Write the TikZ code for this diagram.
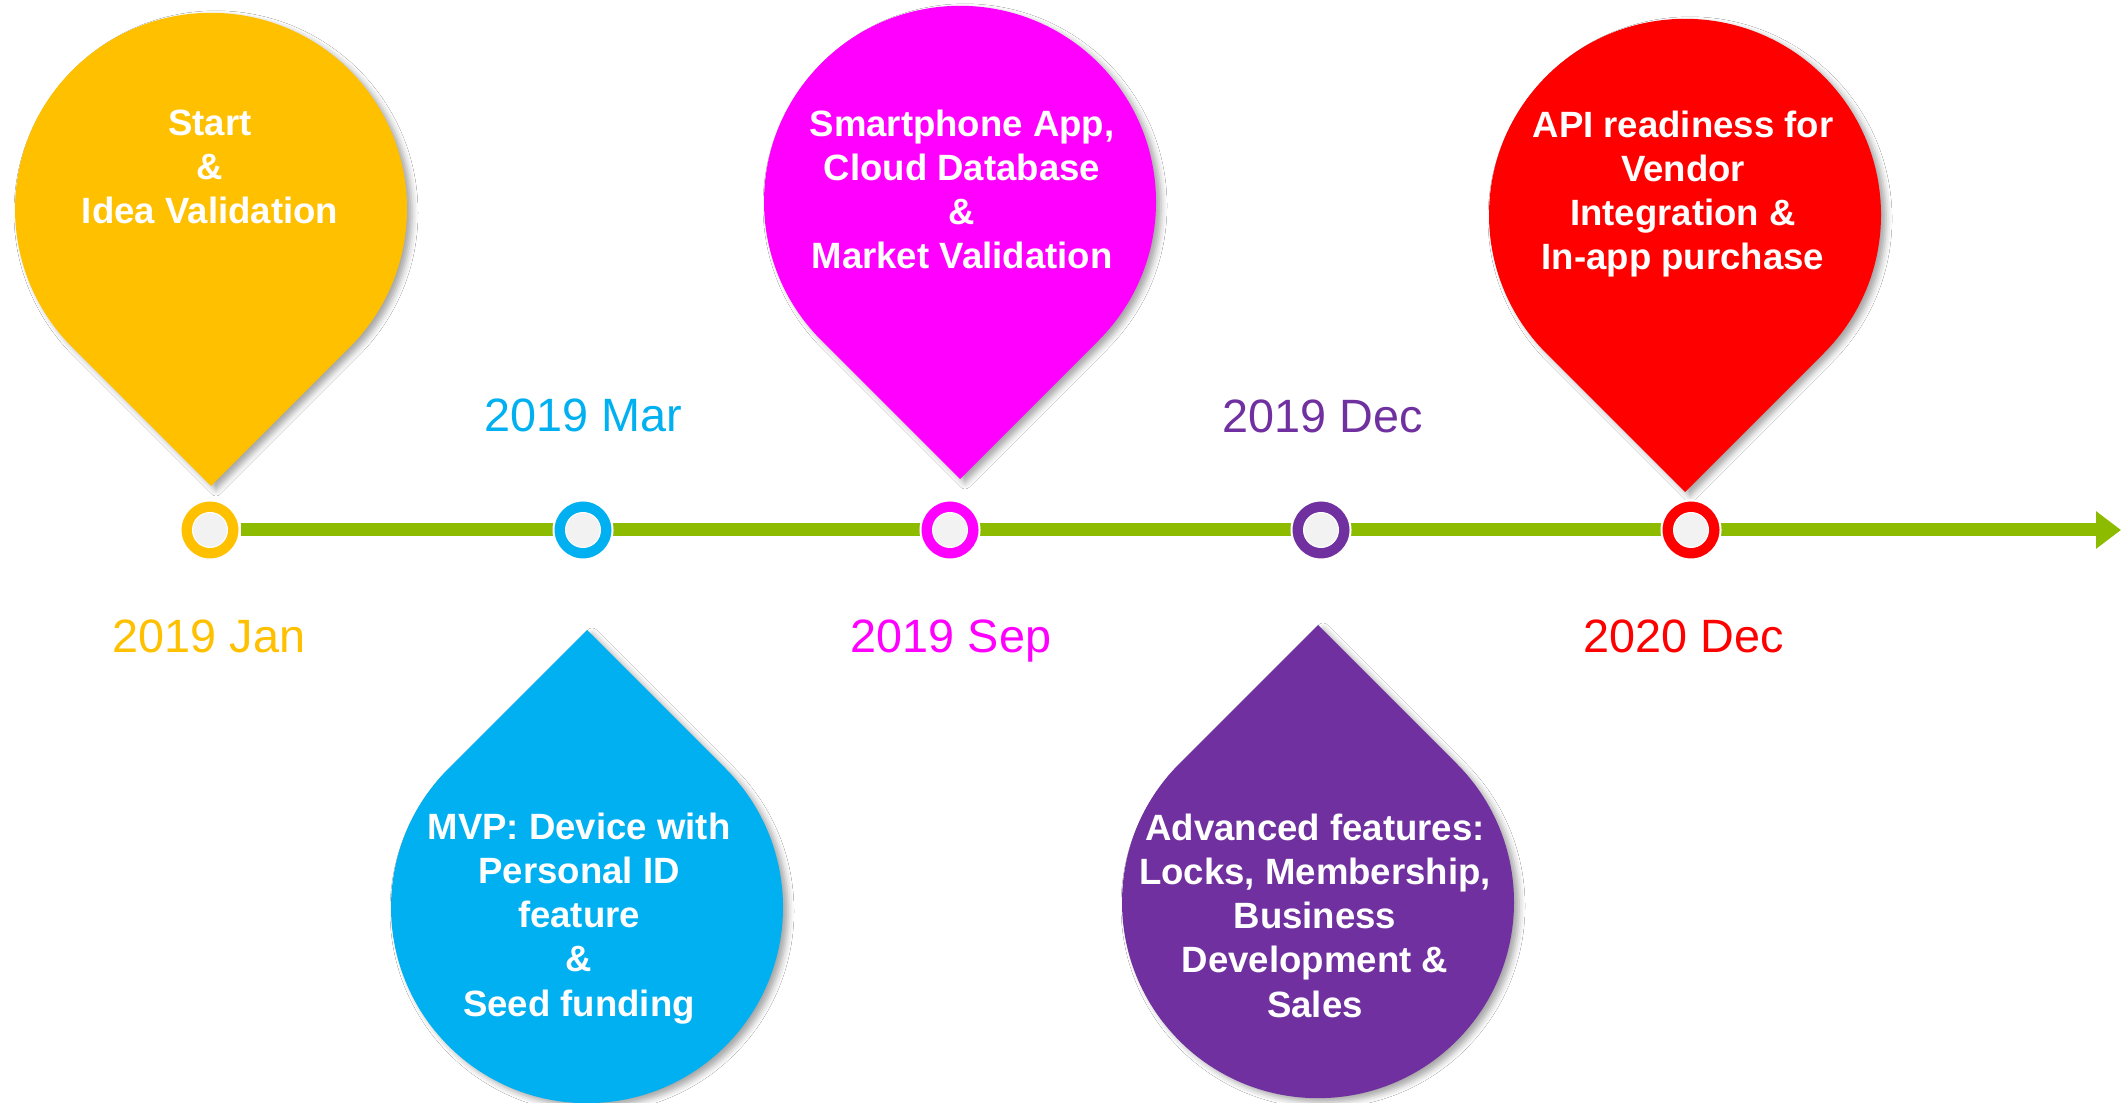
\documentclass[tikz,border=0pt]{standalone}
\usepackage{fontspec}
\setmainfont{Liberation Sans}
\usetikzlibrary{arrows.meta,shadows.blur,backgrounds}

\definecolor{cyellow}{HTML}{FFC000}
\definecolor{cblue}{HTML}{00B0F0}
\definecolor{cmagenta}{HTML}{FF00FF}
\definecolor{cpurple}{HTML}{7030A0}
\definecolor{cred}{HTML}{FF0000}
\definecolor{cgreen}{HTML}{8DBB00}
\definecolor{cinner}{HTML}{F2F2F2}

\tikzset{
  pinshape/.style={fill=#1, blur shadow={shadow xshift=0.05cm, shadow yshift=-0.04cm,
      shadow blur radius=0.06cm, shadow opacity=35}},
  pintext/.style={text=white, font=\fontsize{10.4}{12.58}\selectfont\bfseries,
      align=center, inner sep=0, anchor=north},
  datetext/.style={text=#1, font=\fontsize{13.3}{16}\selectfont, inner sep=0, anchor=base},
  marker/.style={circle, inner sep=0, minimum size=0.59cm, fill=#1, draw=white,
      line width=0.02cm},
  timeline/.style={draw=cgreen, line width=0.13cm,
      -{Triangle[length=0.25cm,width=0.36cm]}},
}

\begin{document}
\begin{tikzpicture}[x=0.01cm,y=0.01cm]
  \useasboundingbox (0,0) rectangle (2121,1103);
  \clip (0,0) rectangle (2121,1103);

  % teardrop pins above the line (tip pointing down)
  \path[pinshape=cyellow] (211,617) -- ++(45:196)
      arc[start angle=-45, end angle=225, radius=196] -- cycle;
  \path[pinshape=cmagenta] (960,624) -- ++(45:196)
      arc[start angle=-45, end angle=225, radius=196] -- cycle;
  \path[pinshape=cred] (1685,611) -- ++(45:196)
      arc[start angle=-45, end angle=225, radius=196] -- cycle;

  % teardrop pins below the line (tip pointing up)
  \path[pinshape=cblue] (587,473) -- ++(-45:196)
      arc[start angle=45, end angle=-225, radius=196] -- cycle;
  \path[pinshape=cpurple] (1318,478) -- ++(-45:196)
      arc[start angle=45, end angle=-225, radius=196] -- cycle;

  % texts inside the pins
  \node[pintext] (t1) at (210,994) {Start\\\&\\Idea Validation};
  \node[pintext] (t3) at (962,994) {Smartphone App,\\Cloud Database\\\&\\Market Validation};
  \node[pintext] (t5) at (1683,993) {API readiness for\\Vendor\\Integration \&\\In-app purchase};
  \node[pintext] (t2) at (579,291) {MVP: Device with\\Personal ID\\feature\\\&\\Seed funding};
  \node[pintext] (t4) at (1315,290) {Advanced features:\\Locks, Membership,\\Business\\Development \&\\Sales};

  % milestone markers on the timeline
  \node[marker=cyellow]  (m1) at (210,573) {};
  \node[marker=cblue]    (m2) at (583,573) {};
  \node[marker=cmagenta] (m3) at (950,573) {};
  \node[marker=cpurple]  (m4) at (1321,573) {};
  \node[marker=cred]     (m5) at (1691,573) {};
  \foreach \m in {m1,m2,m3,m4,m5}{
    \fill[white] (\m) circle[radius=0.18cm];
    \fill[cinner] (\m) circle[radius=0.168cm];
  }
  \coordinate (lineend) at (2121,573);

  % white page and the green arrow, behind everything else
  \begin{scope}[on background layer]
    \fill[white] (0,0) rectangle (2121,1103);
    \draw[timeline] (m1) -- (lineend);
  \end{scope}

  % dates
  \node[datetext=cyellow]  (d1) at (209,450) {2019 Jan};
  \node[datetext=cblue]    (d2) at (583,671) {2019 Mar};
  \node[datetext=cmagenta] (d3) at (951,450) {2019 Sep};
  \node[datetext=cpurple]  (d4) at (1323,670) {2019 Dec};
  \node[datetext=cred]     (d5) at (1684,450) {2020 Dec};
\end{tikzpicture}
\end{document}
